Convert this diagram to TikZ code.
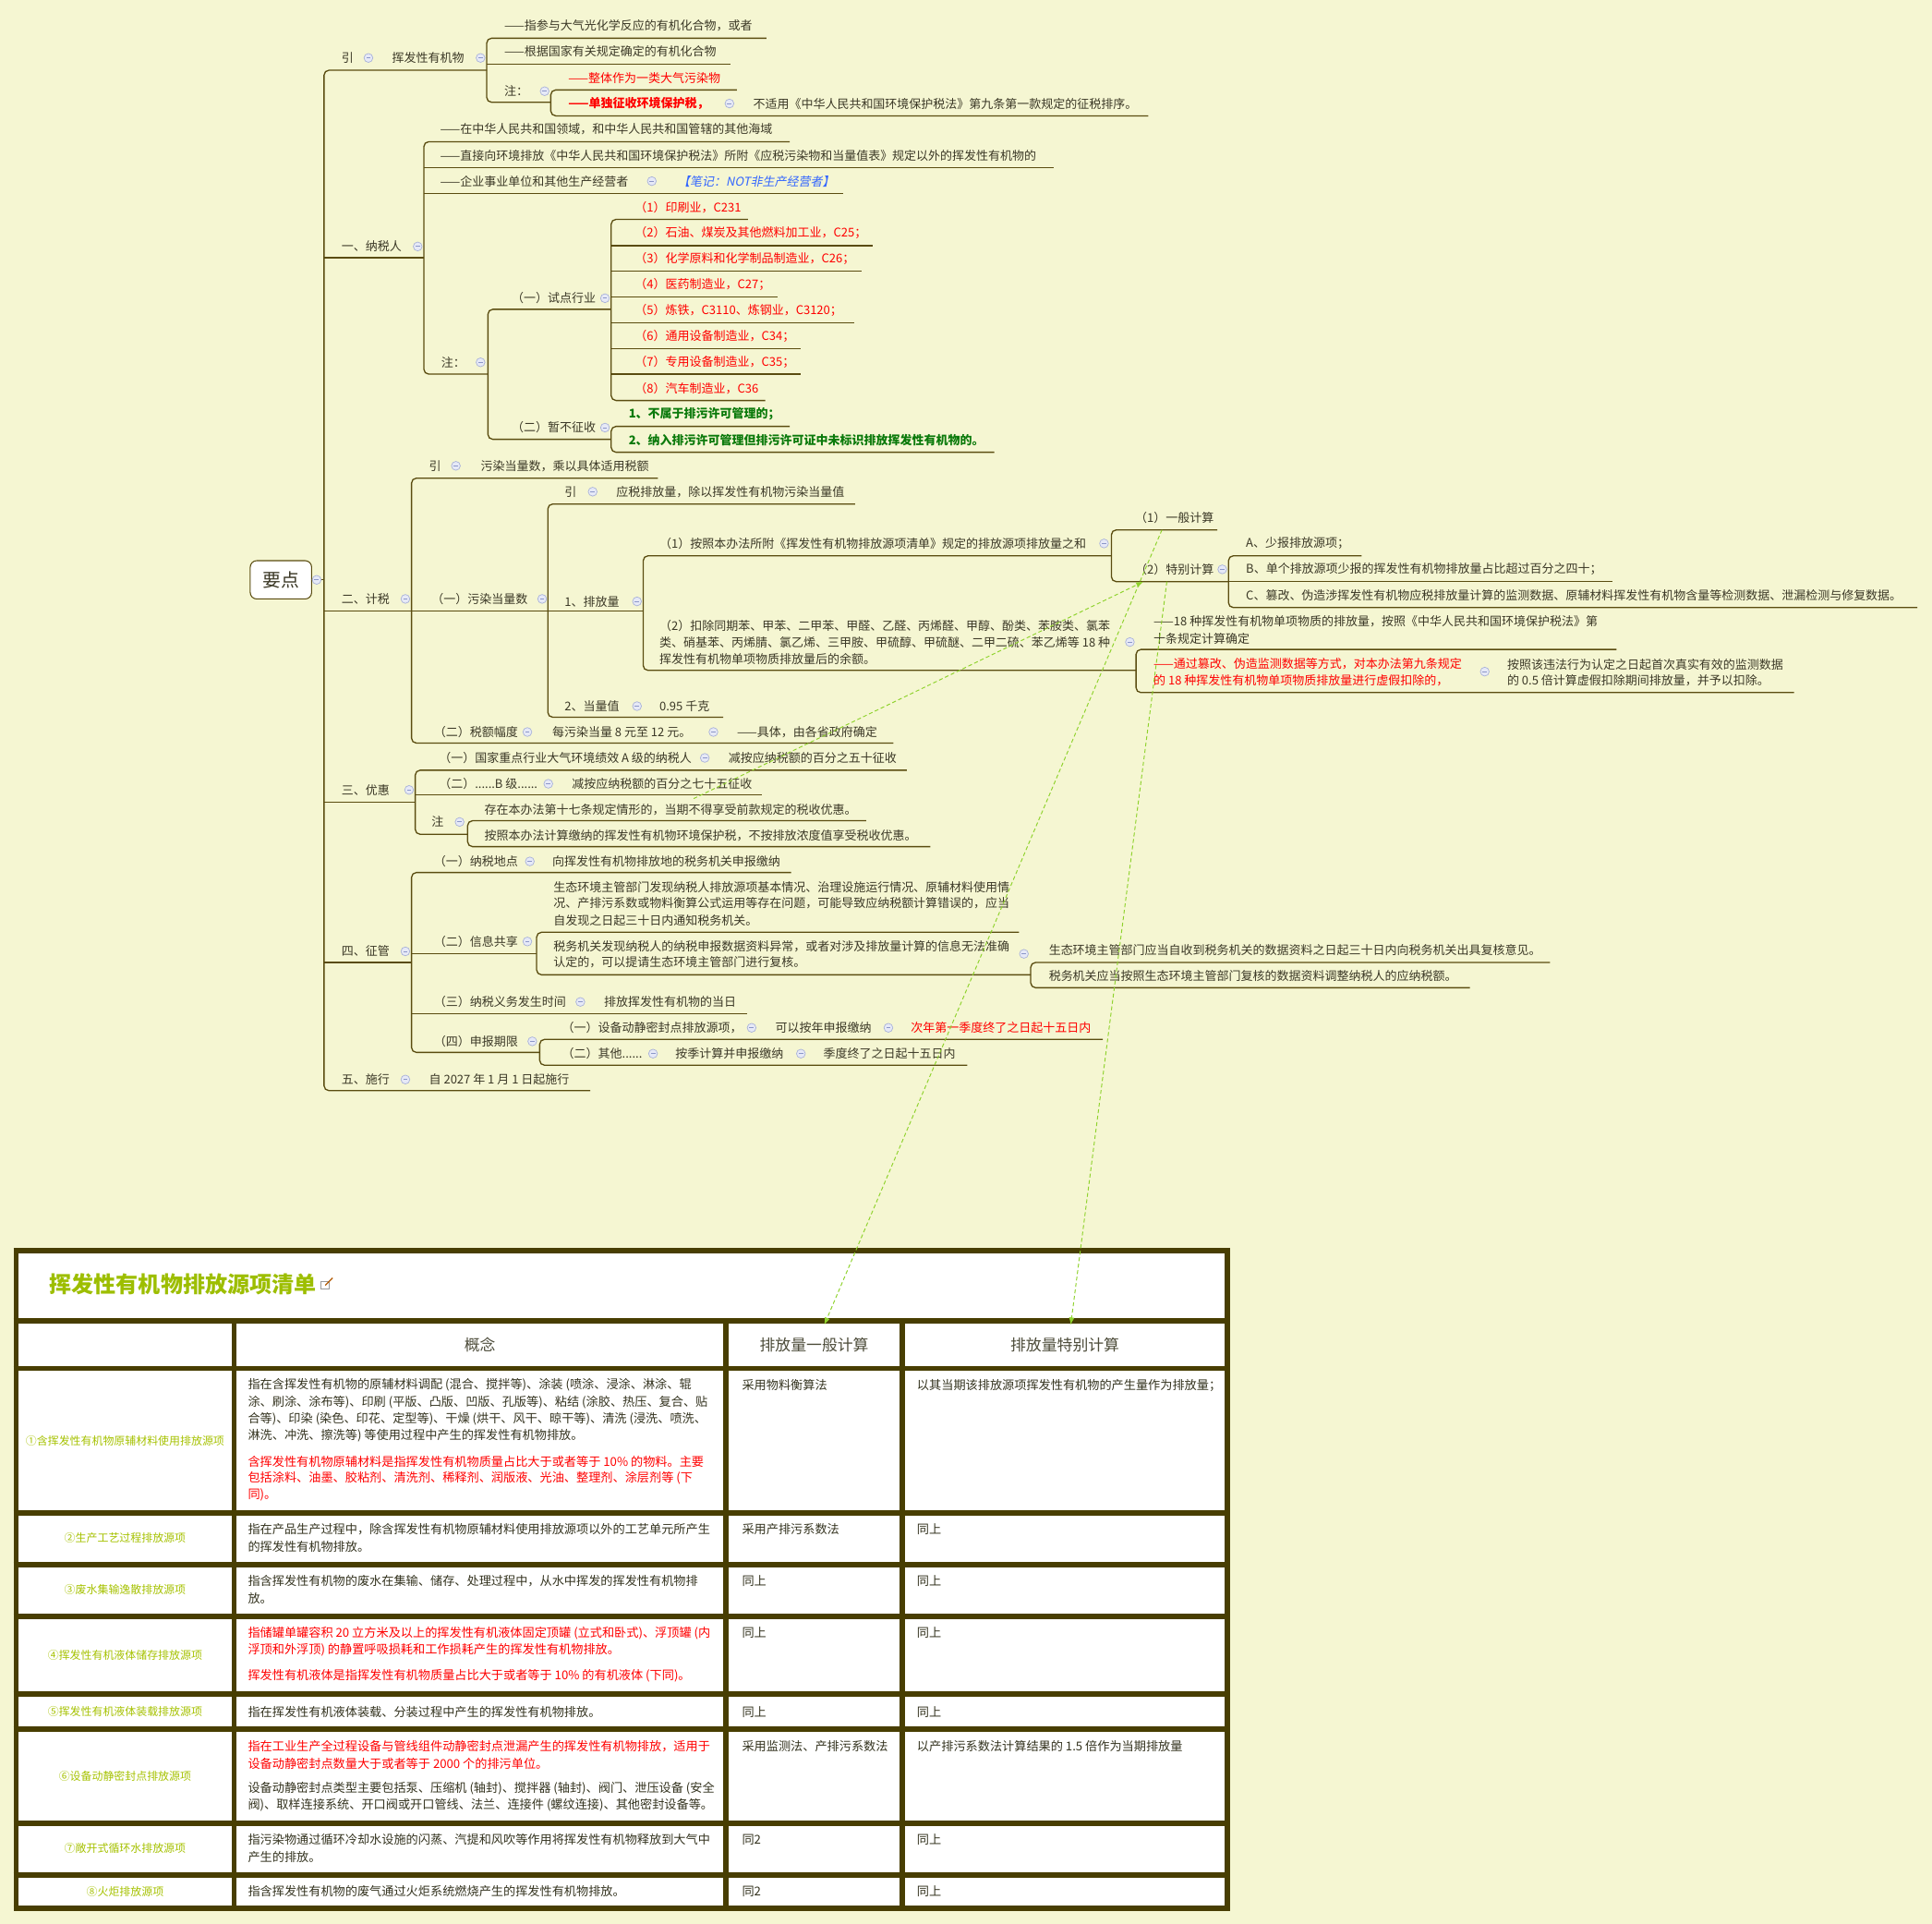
\documentclass[tikz,border=0pt]{standalone}
\usepackage{fontspec}
\setmainfont{Noto Sans CJK SC}
\newfontfamily\notefont{Noto Sans CJK SC}[FakeSlant=0.2]
\usepackage{xcolor}
\usepackage{tikz}
\usetikzlibrary{arrows,arrows.meta,positioning}

\definecolor{bgc}{HTML}{F5F6D2}
\definecolor{linec}{HTML}{5A4C10}
\definecolor{txtc}{HTML}{3B3826}
\definecolor{celc}{HTML}{34331F}
\definecolor{hdrc}{HTML}{4D4C3A}
\definecolor{bordc}{HTML}{483E02}
\definecolor{redc}{HTML}{FF0000}
\definecolor{grnc}{HTML}{0B7A0B}
\definecolor{bluc}{HTML}{3366FF}
\definecolor{ttlc}{HTML}{9DBE00}
\definecolor{lblc}{HTML}{A6C200}
\definecolor{relc}{HTML}{8ED22C}
\definecolor{foldf}{HTML}{E6E9F7}
\definecolor{foldd}{HTML}{A9B2D8}
\definecolor{foldm}{HTML}{8C97C8}

\newcommand\mapfont{\fontsize{7.4}{10}\selectfont}
\newcommand\tabfont{\fontsize{7.5}{10}\selectfont}
\newcommand\lblfont{\fontsize{6.8}{9}\selectfont}
% bracket of one group: vertical at #1, first child y #2 / end #3, last child y #4 / end #5
\newcommand\brk[5]{\draw[tline] (#3,#2) -- (#1,#2) -- (#1,#4) -- (#5,#4);}
\newcommand\twig[3]{\draw[tline] (#1,#2) -- (#3,#2);}

\tikzset{
  mtxt/.style={anchor=west,inner sep=0pt,font=\mapfont,text=txtc},
  rtxt/.style={mtxt,text=redc},
  rbtxt/.style={mtxt,text=redc,font=\mapfont\bfseries},
  gtxt/.style={mtxt,text=grnc,font=\mapfont\bfseries},
  btxt/.style={mtxt,text=bluc,font=\mapfont\notefont},
  tline/.style={draw=linec,line width=0.75pt,rounded corners=3pt},
  foldc/.pic={\draw[fill=foldf,draw=foldd,line width=0.4pt] (0,0) circle (3.6);
              \draw[draw=foldm,line width=0.5pt] (-1.8,0) -- (1.8,0);},
  bord/.style={draw=bordc,line width=3.2pt},
  ttl/.style={anchor=west,inner sep=0pt,font=\fontsize{13.7}{15}\selectfont\bfseries,text=ttlc},
  hdr/.style={inner sep=0pt,font=\fontsize{9.6}{11}\selectfont,text=hdrc},
  lbl/.style={inner sep=0pt,font=\lblfont,text=lblc},
  ctxt/.style={anchor=west,inner sep=0pt,font=\tabfont,text=celc},
  crtxt/.style={ctxt,text=redc},
  rel/.style={draw=relc,line width=0.55pt,dash pattern=on 2.4pt off 1.6pt,-{Latex[length=4.5pt,width=3.4pt]}}
}

\begin{document}
\begin{tikzpicture}[x=0.0267cm,y=-0.0267cm]
\fill[bgc] (0,0) rectangle (1568,1561);
\useasboundingbox (0,0) rectangle (1568,1561);

% tree lines
\brk{263}{57}{395}{885}{479}
\foreach \y/\e in {209/344,496/334,651/337,781/334} \twig{263}{\y}{\e};
\brk{395}{31}{622}{83}{447}
\twig{395}{52}{593}
\brk{447}{73}{598}{94}{932}
\brk{344}{115}{641}{303.6}{396}
\foreach \y/\e in {136/855,157/684} \twig{344}{\y}{\e};
\brk{396}{251}{496}{356.5}{496}
\brk{496}{178}{607}{325}{621}
\foreach \y/\e in {199.4/708,220/699,241/631,262/693,283/650,303.6/650} \twig{496}{\y}{\e};
\brk{496}{346}{641}{367}{807}
\brk{334}{388}{534}{603}{725}
\twig{334}{496}{444.6}
\brk{444.6}{409}{694}{582}{587}
\twig{444.6}{496}{522}
\brk{522}{451}{902}{544}{922}
\brk{902}{430}{988}{472}{997}
\brk{997}{451}{1105}{493}{1556}
\twig{997}{472}{1309}
\brk{922}{527}{1312}{562}{1456}
\brk{337}{625}{736}{677}{379.5}
\twig{337}{645}{618.5}
\brk{379.5}{666}{703}{687}{755}
\brk{334}{708}{642}{854}{438}
\foreach \y/\e in {774/435.5,822.5/606} \twig{334}{\y}{\e};
\brk{435.5}{756.5}{827}{791}{836.5}
\brk{836.5}{781}{1258}{801.5}{1193}
\brk{438}{843.4}{895}{864.4}{785}

% root
\node[draw=linec,fill=white,rounded corners=4pt,minimum width=1.33cm,minimum height=0.83cm,
      inner sep=0pt,line width=0.6pt,font=\fontsize{11.3}{12}\selectfont,text=txtc] (root) at (228,470.5) {要点};
\draw[tline] (root.east) -- (263,470.5);

% fold buttons
\foreach \x/\y in {257/470.5,299/47,390/47,442/74,592/84,339/200,529/147,390/294,491/242,491/347,
  329/486,370/378,440/486,481/399,517/488,896/441,992/462,917/521,1205/545,517/573,428/594,579/594,
  332/641,572/615,445/636,373/667,329/772,430/699,428/764,831/774,471/813,432/845,610/834,721/834,
  530/855,650/855,329/876}
  \pic at (\x,\y) {foldc};

% 引
\node[mtxt] (yin1) at (277,47) {引};
\node[mtxt] (vocs) at (318,47) {挥发性有机物};
\node[mtxt] (def1) at (409,21) {——指参与大气光化学反应的有机化合物，或者};
\node[mtxt] (def2) at (409,42) {——根据国家有关规定确定的有机化合物};
\node[mtxt] (zhu1) at (409,74) {注：};
\node[rtxt] (ztzw) at (461,63) {——整体作为一类大气污染物};
\node[rbtxt] (ddzs) at (461,84) {——单独征收环境保护税，};
\node[mtxt] (bsy) at (611,84) {不适用《中华人民共和国环境保护税法》第九条第一款规定的征税排序。};

% 一、纳税人
\node[mtxt] (nsr) at (277,200) {一、纳税人};
\node[mtxt] (ly) at (357,105) {——在中华人民共和国领域，和中华人民共和国管辖的其他海域};
\node[mtxt] (zjpf) at (357,126) {——直接向环境排放《中华人民共和国环境保护税法》所附《应税污染物和当量值表》规定以外的挥发性有机物的};
\node[mtxt] (qysy) at (357,147) {——企业事业单位和其他生产经营者};
\node[btxt] (biji) at (550,147) {【笔记：NOT非生产经营者】};
\node[mtxt] (zhu2) at (358,294) {注：};
\node[mtxt] (sdhy) at (415,242) {（一）试点行业};
\foreach \tx [count=\i] in {（1）印刷业，C231, （2）石油、煤炭及其他燃料加工业，C25；,
  （3）化学原料和化学制品制造业，C26；, （4）医药制造业，C27；, （5）炼铁，C3110、炼钢业，C3120；,
  （6）通用设备制造业，C34；, （7）专用设备制造业，C35；, （8）汽车制造业，C36}
  \node[rtxt] (hy\i) at (515,{147+21*\i}) {\tx};
\node[mtxt] (zbzs) at (415,347) {（二）暂不征收};
\node[gtxt] (bs1) at (510,336) {1、不属于排污许可管理的；};
\node[gtxt] (bs2) at (510,357) {2、纳入排污许可管理但排污许可证中未标识排放挥发性有机物的。};

% 二、计税
\node[mtxt] (js) at (277,486) {二、计税};
\node[mtxt] (yin2) at (348,378) {引};
\node[mtxt] (yin2t) at (390,378) {污染当量数，乘以具体适用税额};
\node[mtxt] (wrdls) at (350,486) {（一）污染当量数};
\node[mtxt] (yin3) at (458,399) {引};
\node[mtxt] (yin3t) at (500,399) {应税排放量，除以挥发性有机物污染当量值};
\node[mtxt] (pfl) at (458,488) {1、排放量};
\node[mtxt] (anzh) at (535,441) {（1）按照本办法所附《挥发性有机物排放源项清单》规定的排放源项排放量之和};
\node[mtxt] (ybjs) at (921,420) {（1）一般计算};
\node[mtxt] (tbjs) at (921,462) {（2）特别计算};
\node[mtxt] (tbA) at (1011,441) {A、少报排放源项；};
\node[mtxt] (tbB) at (1011,462) {B、单个排放源项少报的挥发性有机物排放量占比超过百分之四十；};
\node[mtxt] (tbC) at (1011,483) {C、篡改、伪造涉挥发性有机物应税排放量计算的监测数据、原辅材料挥发性有机物含量等检测数据、泄漏检测与修复数据。};
\node[mtxt] (kc1) at (535,508) {（2）扣除同期苯、甲苯、二甲苯、甲醛、乙醛、丙烯醛、甲醇、酚类、苯胺类、氯苯};
\node[mtxt] (kc2) at (535,521) {类、硝基苯、丙烯腈、氯乙烯、三甲胺、甲硫醇、甲硫醚、二甲二硫、苯乙烯等 18 种};
\node[mtxt] (kc3) at (535,535) {挥发性有机物单项物质排放量后的余额。};
\node[mtxt] (sx1) at (936,504) {——18 种挥发性有机物单项物质的排放量，按照《中华人民共和国环境保护税法》第};
\node[mtxt] (sx2) at (936,518) {十条规定计算确定};
\node[rtxt] (cg1) at (936,539) {——通过篡改、伪造监测数据等方式，对本办法第九条规定};
\node[rtxt] (cg2) at (936,552) {的 18 种挥发性有机物单项物质排放量进行虚假扣除的，};
\node[mtxt] (ac1) at (1223,539) {按照该违法行为认定之日起首次真实有效的监测数据};
\node[mtxt] (ac2) at (1223,552) {的 0.5 倍计算虚假扣除期间排放量，并予以扣除。};
\node[mtxt] (dlz) at (458,573) {2、当量值};
\node[mtxt] (dlzt) at (535,573) {0.95 千克};
\node[mtxt] (sefd) at (352,594) {（二）税额幅度};
\node[mtxt] (sefd1) at (448,594) {每污染当量 8 元至 12 元。};
\node[mtxt] (sefd2) at (598,594) {——具体，由各省政府确定};

% 三、优惠
\node[mtxt] (yh) at (277,641) {三、优惠};
\node[mtxt] (yhA) at (356,615) {（一）国家重点行业大气环境绩效 A 级的纳税人};
\node[mtxt] (yhA2) at (591,615) {减按应纳税额的百分之五十征收};
\node[mtxt] (yhB) at (356,636) {（二）......B 级......};
\node[mtxt] (yhB2) at (464,636) {减按应纳税额的百分之七十五征收};
\node[mtxt] (zhu3) at (350,667) {注};
\node[mtxt] (zhu3a) at (393,657) {存在本办法第十七条规定情形的，当期不得享受前款规定的税收优惠。};
\node[mtxt] (zhu3b) at (393,678) {按照本办法计算缴纳的挥发性有机物环境保护税，不按排放浓度值享受税收优惠。};

% 四、征管
\node[mtxt] (zg) at (277,772) {四、征管};
\node[mtxt] (nsdd) at (352,699) {（一）纳税地点};
\node[mtxt] (nsdd2) at (448,699) {向挥发性有机物排放地的税务机关申报缴纳};
\node[mtxt] (xxgx) at (352,764) {（二）信息共享};
\node[mtxt] (st1) at (449,720) {生态环境主管部门发现纳税人排放源项基本情况、治理设施运行情况、原辅材料使用情};
\node[mtxt] (st2) at (449,733) {况、产排污系数或物料衡算公式运用等存在问题，可能导致应纳税额计算错误的，应当};
\node[mtxt] (st3) at (449,747) {自发现之日起三十日内通知税务机关。};
\node[mtxt] (sw1) at (449,768) {税务机关发现纳税人的纳税申报数据资料异常，或者对涉及排放量计算的信息无法准确};
\node[mtxt] (sw2) at (449,781) {认定的，可以提请生态环境主管部门进行复核。};
\node[mtxt] (fh1) at (851,771) {生态环境主管部门应当自收到税务机关的数据资料之日起三十日内向税务机关出具复核意见。};
\node[mtxt] (fh2) at (851,792) {税务机关应当按照生态环境主管部门复核的数据资料调整纳税人的应纳税额。};
\node[mtxt] (ywsj) at (352,813) {（三）纳税义务发生时间};
\node[mtxt] (ywsj2) at (490,813) {排放挥发性有机物的当日};
\node[mtxt] (sbqx) at (352,845) {（四）申报期限};
\node[mtxt] (sb1) at (456,834) {（一）设备动静密封点排放源项，};
\node[mtxt] (sb1b) at (629,834) {可以按年申报缴纳};
\node[rtxt] (sb1c) at (739,834) {次年第一季度终了之日起十五日内};
\node[mtxt] (sb2) at (456,855) {（二）其他......};
\node[mtxt] (sb2b) at (548,855) {按季计算并申报缴纳};
\node[mtxt] (sb2c) at (668,855) {季度终了之日起十五日内};

% 五、施行
\node[mtxt] (ssx) at (277,876) {五、施行};
\node[mtxt] (ssxt) at (348,876) {自 2027 年 1 月 1 日起施行};

% table
\fill[white] (13,1015) rectangle (996,1548.7);
\foreach \y in {1015,1072,1110.5,1227.6,1269.5,1311.5,1374.5,1403,1479.5,1521.5,1548.7}
  \draw[bord] (11,\y) -- (998,\y);
\draw[bord] (13,1013) -- (13,1550.8);
\draw[bord] (996,1013) -- (996,1550.8);
\foreach \x in {190,589,732.5} \draw[bord] (\x,1072) -- (\x,1548.7);

\node[ttl] (ttl) at (40,1042) {挥发性有机物排放源项清单};
\draw[draw=gray!80,fill=white,line width=0.3pt] (260,1039.5) rectangle (267,1046);
\draw[draw=orange!70!black,line width=0.7pt] (264,1043) -- (270,1037);

\node[hdr] (h1) at (389.5,1091) {概念};
\node[hdr] (h2) at (660.75,1091) {排放量一般计算};
\node[hdr] (h3) at (864.25,1091) {排放量特别计算};

\foreach \tx/\y [count=\i] in {①含挥发性有机物原辅材料使用排放源项/1169, ②生产工艺过程排放源项/1248,
  ③废水集输逸散排放源项/1290, ④挥发性有机液体储存排放源项/1343, ⑤挥发性有机液体装载排放源项/1389,
  ⑥设备动静密封点排放源项/1441, ⑦敞开式循环水排放源项/1500, ⑧火炬排放源项/1535}
  \node[lbl] (lb\i) at (101.5,\y) {\tx};

% row 1
\foreach \tx [count=\i] in {指在含挥发性有机物的原辅材料调配 (混合、搅拌等)、涂装 (喷涂、浸涂、淋涂、辊,
  涂、刷涂、涂布等)、印刷 (平版、凸版、凹版、孔版等)、粘结 (涂胶、热压、复合、贴,
  合等)、印染 (染色、印花、定型等)、干燥 (烘干、风干、晾干等)、清洗 (浸洗、喷洗、,
  淋洗、冲洗、擦洗等) 等使用过程中产生的挥发性有机物排放。}
  \node[ctxt] (ra\i) at (201,{1110.3+13.7*\i}) {\tx};
\foreach \tx [count=\i] in {含挥发性有机物原辅材料是指挥发性有机物质量占比大于或者等于 10\% 的物料。主要,
  包括涂料、油墨、胶粘剂、清洗剂、稀释剂、润版液、光油、整理剂、涂层剂等 (下, 同)。}
  \node[crtxt] (rb\i) at (201,{1172.4+13.6*\i}) {\tx};
\node[ctxt] (m1) at (602,1124) {采用物料衡算法};
\node[ctxt] (s1) at (744,1124) {以其当期该排放源项挥发性有机物的产生量作为排放量；};

% row 2
\node[ctxt] (c2a) at (201,1241) {指在产品生产过程中，除含挥发性有机物原辅材料使用排放源项以外的工艺单元所产生};
\node[ctxt] (c2b) at (201,1255) {的挥发性有机物排放。};
\node[ctxt] (m2) at (602,1241) {采用产排污系数法};
\node[ctxt] (s2) at (744,1241) {同上};

% row 3
\node[ctxt] (c3a) at (201,1283) {指含挥发性有机物的废水在集输、储存、处理过程中，从水中挥发的挥发性有机物排};
\node[ctxt] (c3b) at (201,1297) {放。};
\node[ctxt] (m3) at (602,1283) {同上};
\node[ctxt] (s3) at (744,1283) {同上};

% row 4
\node[crtxt] (c4a) at (201,1325) {指储罐单罐容积 20 立方米及以上的挥发性有机液体固定顶罐 (立式和卧式)、浮顶罐 (内};
\node[crtxt] (c4b) at (201,1339) {浮顶和外浮顶) 的静置呼吸损耗和工作损耗产生的挥发性有机物排放。};
\node[crtxt] (c4c) at (201,1360) {挥发性有机液体是指挥发性有机物质量占比大于或者等于 10\% 的有机液体 (下同)。};
\node[ctxt] (m4) at (602,1325) {同上};
\node[ctxt] (s4) at (744,1325) {同上};

% row 5
\node[ctxt] (c5a) at (201,1389) {指在挥发性有机液体装载、分装过程中产生的挥发性有机物排放。};
\node[ctxt] (m5) at (602,1389) {同上};
\node[ctxt] (s5) at (744,1389) {同上};

% row 6
\node[crtxt] (c6a) at (201,1417) {指在工业生产全过程设备与管线组件动静密封点泄漏产生的挥发性有机物排放，适用于};
\node[crtxt] (c6b) at (201,1431) {设备动静密封点数量大于或者等于 2000 个的排污单位。};
\node[ctxt] (c6c) at (201,1451) {设备动静密封点类型主要包括泵、压缩机 (轴封)、搅拌器 (轴封)、阀门、泄压设备 (安全};
\node[ctxt] (c6d) at (201,1465) {阀)、取样连接系统、开口阀或开口管线、法兰、连接件 (螺纹连接)、其他密封设备等。};
\node[ctxt] (m6) at (602,1417) {采用监测法、产排污系数法};
\node[ctxt] (s6) at (744,1417) {以产排污系数法计算结果的 1.5 倍作为当期排放量};

% row 7
\node[ctxt] (c7a) at (201,1493) {指污染物通过循环冷却水设施的闪蒸、汽提和风吹等作用将挥发性有机物释放到大气中};
\node[ctxt] (c7b) at (201,1507) {产生的排放。};
\node[ctxt] (m7) at (602,1493) {同2};
\node[ctxt] (s7) at (744,1493) {同上};

% row 8
\node[ctxt] (c8a) at (201,1535) {指含挥发性有机物的废气通过火炬系统燃烧产生的挥发性有机物排放。};
\node[ctxt] (m8) at (602,1535) {同2};
\node[ctxt] (s8) at (744,1535) {同上};

% relationship lines
\coordinate (r1a) at (563,648);  \coordinate (r1b) at (928,472);
\coordinate (r2a) at (943,430);  \coordinate (r2b) at (669,1075);
\coordinate (r3a) at (947,472);  \coordinate (r3b) at (869,1075);
\draw[rel] (r1a) -- (r1b);
\draw[rel] (r2a) -- (r2b);
\draw[rel] (r3a) -- (r3b);
\end{tikzpicture}
\end{document}
